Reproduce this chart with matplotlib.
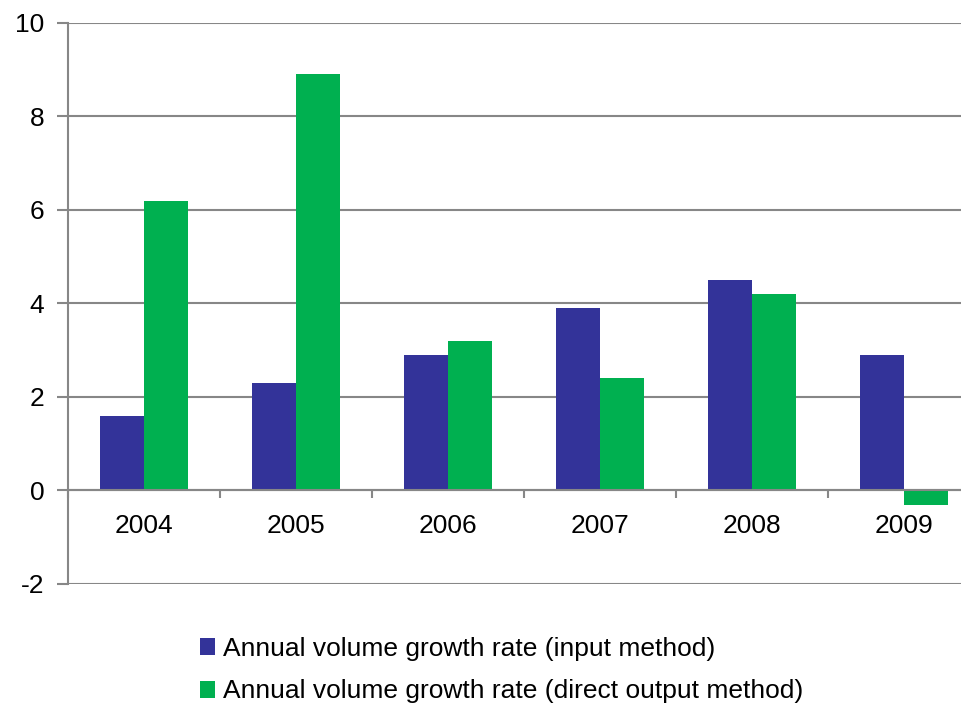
import matplotlib
matplotlib.use("Agg")
import matplotlib.pyplot as plt
import numpy as np

years = ["2004", "2005", "2006", "2007", "2008", "2009"]
input_method = [1.6, 2.3, 2.9, 3.9, 4.5, 2.9]
direct_output = [6.2, 8.9, 3.2, 2.4, 4.2, -0.3]
labels = ["Annual volume growth rate (input method)",
          "Annual volume growth rate (direct output method)"]

plt.rcParams['font.family'] = ['Liberation Sans', 'DejaVu Sans']
plt.rcParams['axes.unicode_minus'] = False
grey = "#878787"

fig = plt.figure(figsize=(9.62, 7.07), dpi=100)
# the original chart runs past the right edge of the image
ax = fig.add_axes([0.0707, 0.174, 0.948, 0.7935])

x = np.arange(len(years))
w = 0.29
ax.bar(x - w / 2, input_method, w, color="#333399", label=labels[0], zorder=3)
ax.bar(x + w / 2, direct_output, w, color="#00B050", label=labels[1], zorder=3)

ax.set_xlim(-0.5, len(years) - 0.5)
ax.set_ylim(-2, 10)
ax.set_yticks(np.arange(-2, 11, 2))
ax.yaxis.grid(True, color=grey, linewidth=1.5, zorder=0)
ax.set_axisbelow(True)

for s in ["top", "right"]:
    ax.spines[s].set_visible(False)
ax.spines["left"].set_color(grey)
ax.spines["left"].set_linewidth(1.5)
ax.spines["bottom"].set_position(("data", 0))
ax.spines["bottom"].set_color(grey)
ax.spines["bottom"].set_linewidth(1.5)
ax.spines["bottom"].set_zorder(4)

ax.set_xticks(x)
ax.set_xticklabels(years)
ax.set_xticks(np.arange(-0.5, len(years), 1.0), minor=True)
ax.tick_params(axis="x", which="major", length=0, pad=17, labelsize=19)
ax.tick_params(axis="x", which="minor", length=6, width=1.5, color=grey, direction="out")
ax.tick_params(axis="y", length=8, width=1.5, color=grey, labelsize=19, pad=9)

fig.legend(loc="center", bbox_to_anchor=(0.521, 0.052), ncol=1, frameon=False,
           fontsize=19, handlelength=0.6, handleheight=0.6, handletextpad=0.27,
           labelspacing=0.7, alignment="left", borderpad=0)

fig.savefig("out.png", dpi=100)
